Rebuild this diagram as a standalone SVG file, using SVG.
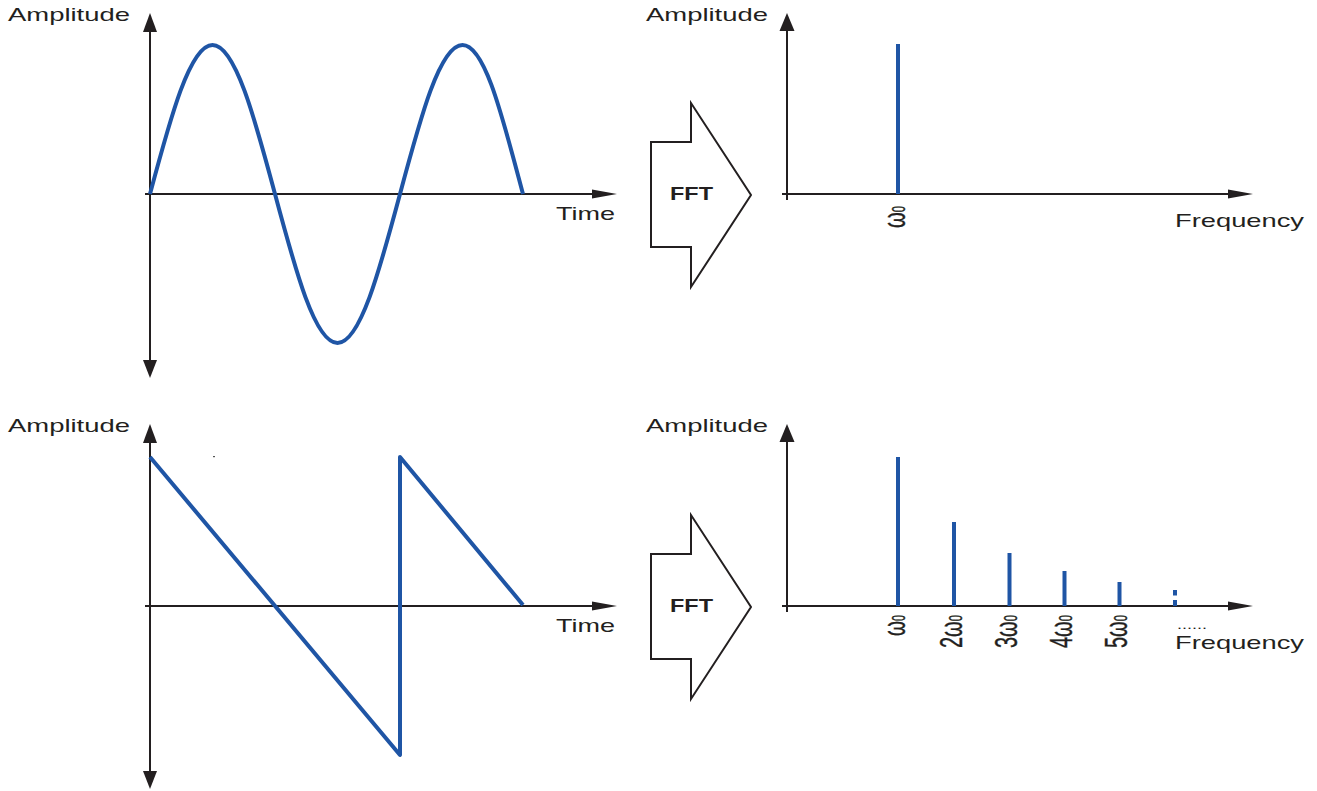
<svg xmlns="http://www.w3.org/2000/svg" width="1317" height="791" viewBox="0 0 1317 791">
<style>
.bg{fill:#ffffff}
.ax{stroke:#231f20;stroke-width:2;fill:none}
.ah{fill:#231f20;stroke:none}
.sig{stroke:#1f55a5;stroke-width:4;fill:none;stroke-linejoin:round}
.sp{stroke:#1f55a5;stroke-width:4;fill:none}
.lbl{font-family:"Liberation Sans",Arial,sans-serif;font-size:19px;fill:#231f20}
.fft{font-family:"Liberation Sans",Arial,sans-serif;font-size:19px;font-weight:bold;fill:#231f20}
.om{font-family:"Liberation Sans",Arial,sans-serif;font-size:32px;fill:#231f20;stroke:#231f20;stroke-width:0.4}
.blk{fill:#ffffff;stroke:#231f20;stroke-width:2;stroke-linejoin:miter}
</style>
<rect class="bg" x="0" y="0" width="1317" height="791"/>

<g id="connectors">
  <!-- top-left axes -->
  <line class="ax" x1="150" y1="28" x2="150" y2="364"/>
  <polygon class="ah" points="150,13 143,32 157,32"/>
  <polygon class="ah" points="150,378 143,360 157,360"/>
  <line class="ax" x1="145" y1="194" x2="596" y2="194"/>
  <polygon class="ah" points="617,194 592,189.5 592,198.5"/>
  <!-- bottom-left axes -->
  <line class="ax" x1="150" y1="440" x2="150" y2="776"/>
  <polygon class="ah" points="150,424 143,443 157,443"/>
  <polygon class="ah" points="150,789 143,771 157,771"/>
  <line class="ax" x1="145" y1="606" x2="596" y2="606"/>
  <polygon class="ah" points="617,606 592,601.5 592,610.5"/>
  <!-- top-right axes -->
  <line class="ax" x1="787" y1="28" x2="787" y2="200"/>
  <polygon class="ah" points="787,13 779.5,31 794.5,31"/>
  <line class="ax" x1="782" y1="194" x2="1232" y2="194"/>
  <polygon class="ah" points="1253,194 1228,189.5 1228,198.5"/>
  <!-- bottom-right axes -->
  <line class="ax" x1="787" y1="440" x2="787" y2="612"/>
  <polygon class="ah" points="787,424 779.5,442 794.5,442"/>
  <line class="ax" x1="782" y1="606" x2="1232" y2="606"/>
  <polygon class="ah" points="1253,606 1228,601.5 1228,610.5"/>
</g>

<g id="sine-wave">
  <path class="sig" d="M150,194 C170.4,117.7 190,45 212.5,45 C235.1,45 254.6,117.7 275,194 C295.4,270.3 314.9,343 337.5,343 C360.1,343 379.6,270.3 400,194 C420.4,117.7 439.9,45 462.5,45 C485.1,45 502.6,117.7 523,194"/>
</g>

<g id="sawtooth-wave">
  <polyline class="sig" points="150,457 400,755 400,457 523,605"/>
  <rect x="213" y="456" width="2" height="1.2" fill="#555"/>
</g>

<g id="fft-top">
  <polygon class="blk" points="651,142 691,142 691,103 751,195 691,287 691,247 651,247"/>
  <text class="fft" x="670" y="200" textLength="43" lengthAdjust="spacingAndGlyphs">FFT</text>
</g>
<g id="fft-bottom">
  <polygon class="blk" points="651,554 691,554 691,515 751,607 691,699 691,659 651,659"/>
  <text class="fft" x="670" y="612" textLength="43" lengthAdjust="spacingAndGlyphs">FFT</text>
</g>

<g id="spectrum-top">
  <line class="sp" x1="898" y1="44" x2="898" y2="194"/>
</g>

<g id="spectrum-bottom">
  <line class="sp" x1="898" y1="457" x2="898" y2="606"/>
  <line class="sp" x1="954" y1="522" x2="954" y2="606"/>
  <line class="sp" x1="1009.5" y1="553" x2="1009.5" y2="606"/>
  <line class="sp" x1="1064.5" y1="571" x2="1064.5" y2="606"/>
  <line class="sp" x1="1119.5" y1="582" x2="1119.5" y2="606"/>
  <line class="sp" x1="1175" y1="590" x2="1175" y2="595.5"/>
  <line class="sp" x1="1175" y1="600" x2="1175" y2="606"/>
</g>

<g id="labels">
  <text class="lbl" x="8" y="21" textLength="122" lengthAdjust="spacingAndGlyphs">Amplitude</text>
  <text class="lbl" x="646" y="21" textLength="122" lengthAdjust="spacingAndGlyphs">Amplitude</text>
  <text class="lbl" x="8" y="432" textLength="122" lengthAdjust="spacingAndGlyphs">Amplitude</text>
  <text class="lbl" x="646" y="432" textLength="122" lengthAdjust="spacingAndGlyphs">Amplitude</text>
  <text class="lbl" x="556" y="220" textLength="59" lengthAdjust="spacingAndGlyphs">Time</text>
  <text class="lbl" x="556" y="632" textLength="59" lengthAdjust="spacingAndGlyphs">Time</text>
  <text class="lbl" x="1175" y="227" textLength="129" lengthAdjust="spacingAndGlyphs">Frequency</text>
  <text class="lbl" x="1175" y="649" textLength="129" lengthAdjust="spacingAndGlyphs">Frequency</text>
  <text class="lbl" x="1177" y="629" textLength="30" lengthAdjust="spacingAndGlyphs" style="font-size:12px">......</text>

  <text class="om" text-anchor="end" transform="translate(905,206) rotate(-90)" textLength="22" lengthAdjust="spacingAndGlyphs">ω<tspan font-size="18">0</tspan></text>
  <text class="om" text-anchor="end" transform="translate(905,615) rotate(-90)" textLength="21" lengthAdjust="spacingAndGlyphs">ω<tspan font-size="18">0</tspan></text>
  <text class="om" text-anchor="end" transform="translate(962,615) rotate(-90)" textLength="33" lengthAdjust="spacingAndGlyphs">2ω<tspan font-size="18">0</tspan></text>
  <text class="om" text-anchor="end" transform="translate(1017,615) rotate(-90)" textLength="33" lengthAdjust="spacingAndGlyphs">3ω<tspan font-size="18">0</tspan></text>
  <text class="om" text-anchor="end" transform="translate(1072,615) rotate(-90)" textLength="33" lengthAdjust="spacingAndGlyphs">4ω<tspan font-size="18">0</tspan></text>
  <text class="om" text-anchor="end" transform="translate(1127,615) rotate(-90)" textLength="33" lengthAdjust="spacingAndGlyphs">5ω<tspan font-size="18">0</tspan></text>
</g>
</svg>
